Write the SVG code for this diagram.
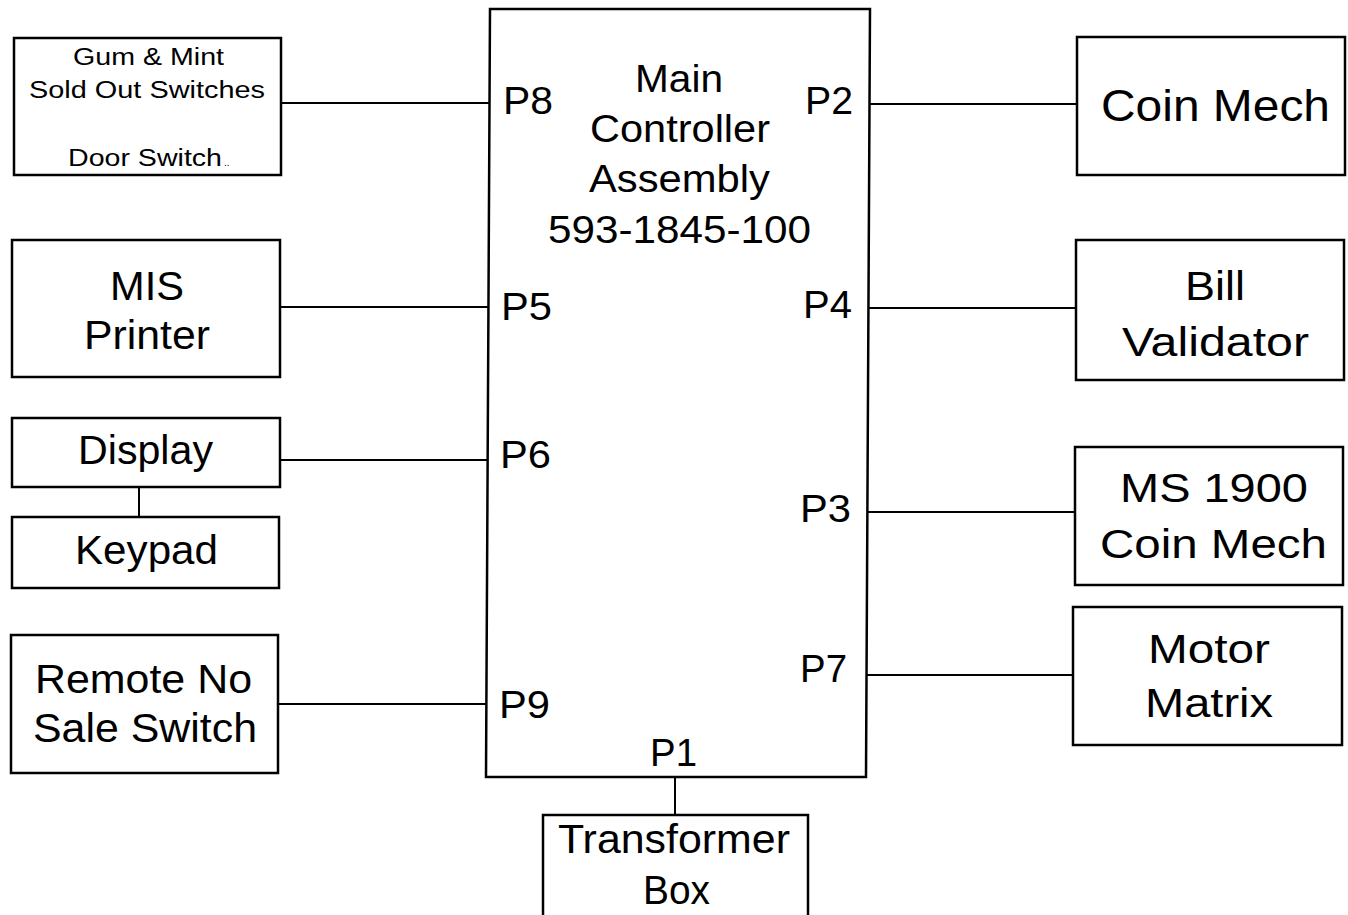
<svg xmlns="http://www.w3.org/2000/svg" width="1348" height="915" viewBox="0 0 1348 915">
<style>
.box{fill:#fff;stroke:#000;stroke-width:2.5}
.ln{stroke:#000;stroke-width:2;fill:none}
text{font-family:"Liberation Sans",Arial,sans-serif;fill:#000}
.s{font-size:23px}
.m{font-size:38px}
.l{font-size:41px}
.xl{font-size:44px}
</style>
<rect width="1348" height="915" fill="#fff"/>
<g id="connectors">
<line class="ln" x1="281" y1="103" x2="490" y2="103"/>
<line class="ln" x1="870" y1="104" x2="1077" y2="104"/>
<line class="ln" x1="280" y1="307" x2="489" y2="307" stroke-width="3"/>
<line class="ln" x1="869" y1="308" x2="1076" y2="308"/>
<line class="ln" x1="280" y1="460" x2="488" y2="460" stroke-width="3"/>
<line class="ln" x1="139" y1="487" x2="139" y2="517"/>
<line class="ln" x1="868" y1="512" x2="1075" y2="512"/>
<line class="ln" x1="867" y1="675" x2="1073" y2="675"/>
<line class="ln" x1="278" y1="704" x2="487" y2="704" stroke-width="2.5"/>
<line class="ln" x1="675" y1="777" x2="675" y2="815"/>
</g>
<g id="main">
<polygon class="box" points="490,9 870,9 866,777 486,777"/>
<text class="m" x="635" y="92" textLength="88" lengthAdjust="spacingAndGlyphs">Main</text>
<text class="m" x="590" y="142" textLength="180" lengthAdjust="spacingAndGlyphs">Controller</text>
<text class="m" x="589" y="192" textLength="181" lengthAdjust="spacingAndGlyphs">Assembly</text>
<text class="m" x="548" y="243" textLength="263" lengthAdjust="spacingAndGlyphs">593-1845-100</text>
<text class="m" x="503" y="114" textLength="50" lengthAdjust="spacingAndGlyphs">P8</text>
<text class="m" x="805" y="114" textLength="48" lengthAdjust="spacingAndGlyphs">P2</text>
<text class="m" x="501" y="320" textLength="51" lengthAdjust="spacingAndGlyphs">P5</text>
<text class="m" x="803" y="318" textLength="49" lengthAdjust="spacingAndGlyphs">P4</text>
<text class="m" x="500" y="468" textLength="51" lengthAdjust="spacingAndGlyphs">P6</text>
<text class="m" x="800" y="522" textLength="51" lengthAdjust="spacingAndGlyphs">P3</text>
<text class="m" x="800" y="682" textLength="47" lengthAdjust="spacingAndGlyphs">P7</text>
<text class="m" x="499" y="718" textLength="51" lengthAdjust="spacingAndGlyphs">P9</text>
<text class="m" x="650" y="766" textLength="47" lengthAdjust="spacingAndGlyphs">P1</text>
</g>
<g id="gum">
<rect class="box" x="14" y="38" width="267" height="137"/>
<text class="s" x="73" y="65" textLength="151" lengthAdjust="spacingAndGlyphs">Gum &amp; Mint</text>
<text class="s" x="29" y="98" textLength="236" lengthAdjust="spacingAndGlyphs">Sold Out Switches</text>
<text class="s" x="68" y="166" textLength="154" lengthAdjust="spacingAndGlyphs">Door Switch</text>
<text x="224" y="166" font-size="10">..</text>
</g>
<g id="coinmech">
<rect class="box" x="1077" y="37" width="268" height="138"/>
<text class="xl" x="1101" y="121" textLength="229" lengthAdjust="spacingAndGlyphs">Coin Mech</text>
</g>
<g id="mis">
<rect class="box" x="12" y="240" width="268" height="137"/>
<text class="l" x="110" y="300" textLength="74" lengthAdjust="spacingAndGlyphs">MIS</text>
<text class="l" x="84" y="349" textLength="126" lengthAdjust="spacingAndGlyphs">Printer</text>
</g>
<g id="bill">
<rect class="box" x="1076" y="240" width="268" height="140"/>
<text class="l" x="1185" y="300" textLength="60" lengthAdjust="spacingAndGlyphs">Bill</text>
<text class="l" x="1122" y="356" textLength="187" lengthAdjust="spacingAndGlyphs">Validator</text>
</g>
<g id="display">
<rect class="box" x="12" y="418" width="268" height="69"/>
<text class="l" x="78" y="464" textLength="135" lengthAdjust="spacingAndGlyphs">Display</text>
</g>
<g id="keypad">
<rect class="box" x="12" y="517" width="267" height="71"/>
<text class="l" x="75" y="564" textLength="143" lengthAdjust="spacingAndGlyphs">Keypad</text>
</g>
<g id="ms1900">
<rect class="box" x="1075" y="447" width="268" height="138"/>
<text class="l" x="1120" y="502" textLength="188" lengthAdjust="spacingAndGlyphs">MS 1900</text>
<text class="l" x="1100" y="558" textLength="227" lengthAdjust="spacingAndGlyphs">Coin Mech</text>
</g>
<g id="remote">
<rect class="box" x="11" y="635" width="267" height="138"/>
<text class="l" x="35" y="693" textLength="217" lengthAdjust="spacingAndGlyphs">Remote No</text>
<text class="l" x="33" y="742" textLength="224" lengthAdjust="spacingAndGlyphs">Sale Switch</text>
</g>
<g id="motor">
<rect class="box" x="1073" y="607" width="269" height="138"/>
<text class="l" x="1148" y="663" textLength="122" lengthAdjust="spacingAndGlyphs">Motor</text>
<text class="l" x="1145" y="717" textLength="128" lengthAdjust="spacingAndGlyphs">Matrix</text>
</g>
<g id="transformer">
<path class="box" d="M543,920 V815 H808 V920"/>
<text class="l" x="558" y="853" textLength="232" lengthAdjust="spacingAndGlyphs">Transformer</text>
<text class="l" x="643" y="904" textLength="67" lengthAdjust="spacingAndGlyphs">Box</text>
</g>
</svg>
